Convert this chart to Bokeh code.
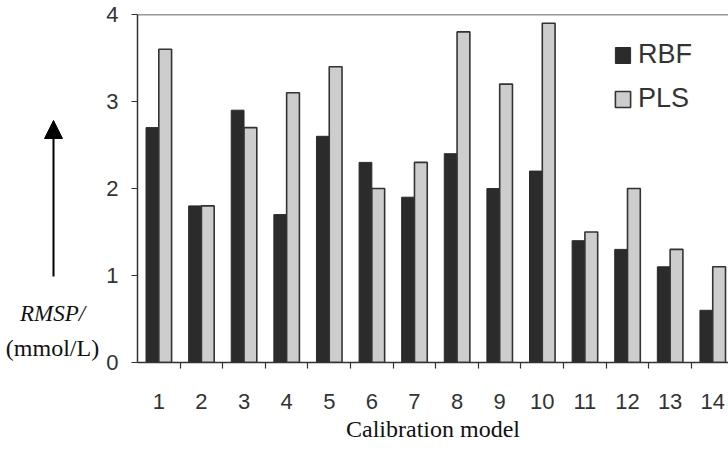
from bokeh.plotting import figure
from bokeh.layouts import row
from bokeh.models import (ColumnDataSource, FixedTicker, Range1d, Span, Label,
                          Arrow, NormalHead)
from bokeh.transform import dodge
from bokeh.embed import file_html
from bokeh.resources import INLINE

# ---- data -------------------------------------------------------------
models = [1, 2, 3, 4, 5, 6, 7, 8, 9, 10, 11, 12, 13, 14]
rbf = [2.7, 1.8, 2.9, 1.7, 2.6, 2.3, 1.9, 2.4, 2.0, 2.2, 1.4, 1.3, 1.1, 0.6]
pls = [3.6, 1.8, 2.7, 3.1, 3.4, 2.0, 2.3, 3.8, 3.2, 3.9, 1.5, 2.0, 1.3, 1.1]
y_ticks = [0, 1, 2, 3, 4]
series_names = ["RBF", "PLS"]
x_title = "Calibration model"
y_title_1 = "RMSP/"
y_title_2 = "(mmol/L)"

H = 450
LEFT_W = 100
TOP = 14
BOTTOM = 88

# ---- left panel: y title (arrow + two lines of text) -------------------
# its frame spans the same vertical pixels as the chart frame; y range is in page pixels
left = figure(width=LEFT_W, height=H, output_backend="svg", toolbar_location=None,
              x_range=Range1d(0, LEFT_W), y_range=Range1d(H - BOTTOM, TOP),
              x_axis_location=None, y_axis_location=None,
              min_border_left=0, min_border_right=0, min_border_top=TOP,
              min_border_bottom=BOTTOM)
left.outline_line_color = None
left.xgrid.visible = False
left.ygrid.visible = False
left.add_layout(Arrow(end=NormalHead(size=18, fill_color="black", line_color="black"),
                      x_start=53, y_start=276, x_end=53, y_end=120,
                      line_color="black", line_width=2))
left.add_layout(Label(x=52, y=313, text=y_title_1, text_font="Liberation Serif",
                      text_font_style="italic", text_font_size="23px",
                      text_align="center", text_baseline="middle", text_color="#111111"))
left.add_layout(Label(x=52, y=347, text=y_title_2, text_font="Liberation Serif",
                      text_font_size="24px", text_align="center",
                      text_baseline="middle", text_color="#111111"))

# ---- main chart --------------------------------------------------------
src = ColumnDataSource(dict(model=models, rbf=rbf, pls=pls))

p = figure(width=728 - LEFT_W, height=H, output_backend="svg", toolbar_location=None,
           x_range=Range1d(0.5, 14.37), y_range=Range1d(0, 4),
           min_border_left=137 - LEFT_W, min_border_right=0, min_border_top=TOP,
           min_border_bottom=BOTTOM)
p.outline_line_color = None
p.xgrid.visible = False
p.ygrid.visible = False

BW = 0.3
p.vbar(x=dodge("model", -BW / 2, range=p.x_range), top="rbf", width=BW,
       source=src, fill_color="#2b2b2b", line_color="#2b2b2b", line_width=1,
       legend_label=series_names[0])
p.vbar(x=dodge("model", BW / 2, range=p.x_range), top="pls", width=BW,
       source=src, fill_color="#cdcdcd", line_color="#333333", line_width=1.6,
       legend_label=series_names[1])

# top frame line
p.add_layout(Span(location=y_ticks[-1], dimension="width", line_color="#333333",
                  line_width=1.5))

# x axis
xa = p.xaxis[0]
xa.ticker = FixedTicker(ticks=models, minor_ticks=[m + 0.5 for m in models[:-1]])
xa.major_tick_line_color = None
xa.major_tick_out = 0
xa.major_tick_in = 0
xa.minor_tick_out = 6
xa.minor_tick_in = 0
xa.minor_tick_line_color = "#333333"
xa.minor_tick_line_width = 1.2
xa.axis_line_color = "#333333"
xa.axis_line_width = 1.5
xa.major_label_text_font = "Liberation Sans"
xa.major_label_text_font_size = "22px"
xa.major_label_text_color = "#333333"
xa.major_label_standoff = 25
xa.axis_label = x_title
xa.axis_label_text_font = "Liberation Serif"
xa.axis_label_text_font_size = "24px"
xa.axis_label_text_font_style = "normal"
xa.axis_label_text_color = "#111111"
xa.axis_label_standoff = 4

# y axis
ya = p.yaxis[0]
ya.ticker = FixedTicker(ticks=y_ticks)
ya.major_tick_out = 6
ya.major_tick_in = 0
ya.minor_tick_line_color = None
ya.major_tick_line_color = "#333333"
ya.major_tick_line_width = 1.2
ya.axis_line_color = "#333333"
ya.axis_line_width = 1.5
ya.major_label_text_font = "Liberation Sans"
ya.major_label_text_font_size = "22px"
ya.major_label_text_color = "#333333"
ya.major_label_standoff = 13

# legend
lg = p.legend[0]
lg.location = (476, 248)
lg.border_line_color = None
lg.background_fill_alpha = 0
lg.padding = 0
lg.margin = 0
lg.spacing = 13
lg.glyph_width = 19
lg.glyph_height = 20
lg.label_standoff = 6
lg.label_text_font = "Liberation Sans"
lg.label_text_font_size = "27px"
lg.label_text_color = "#333333"

layout = row(left, p)
open("out.html", "w").write(file_html(layout, INLINE))
